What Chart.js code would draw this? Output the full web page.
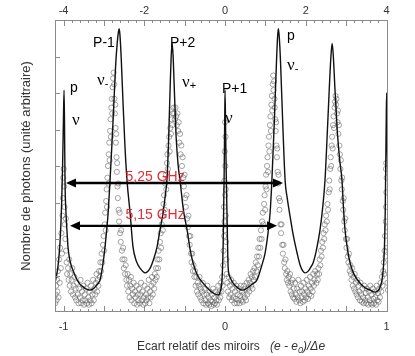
<!DOCTYPE html>
<html>
<head>
<meta charset="utf-8">
<script src="https://cdn.jsdelivr.net/npm/chart.js@4.4.1/dist/chart.umd.min.js"></script>
<style>
  html, body { margin: 0; padding: 0; background: #fff; }
  #c { display: block; }
</style>
</head>
<body>
<canvas id="c" width="415" height="356"></canvas>
<script>
// ---------- axis ticks ----------
const bottomTicks = [-1, 0, 1];
const topTicks = [-4, -2, 0, 2, 4];

// ---------- fitted curve (solid line) ----------
const fitU = [-1.053,-1.045,-1.036,-1.027,-1.019,-1.012,-1.006,-1.001,-0.997,-0.994,-0.991,-0.985,-0.978,-0.972,-0.962,-0.950,-0.941,-0.925,-0.905,-0.879,-0.858,-0.836,-0.815,-0.795,-0.774,-0.760,-0.750,-0.743,-0.734,-0.724,-0.712,-0.700,-0.688,-0.678,-0.668,-0.660,-0.656,-0.651,-0.643,-0.632,-0.620,-0.607,-0.588,-0.570,-0.550,-0.526,-0.495,-0.464,-0.440,-0.421,-0.400,-0.384,-0.370,-0.359,-0.350,-0.341,-0.334,-0.328,-0.322,-0.314,-0.303,-0.290,-0.279,-0.258,-0.235,-0.215,-0.198,-0.170,-0.136,-0.105,-0.074,-0.043,-0.030,-0.019,-0.012,-0.006,-0.002,0.000,0.004,0.008,0.012,0.019,0.030,0.050,0.080,0.111,0.140,0.170,0.198,0.225,0.248,0.266,0.279,0.290,0.305,0.318,0.325,0.330,0.336,0.344,0.357,0.372,0.385,0.402,0.420,0.446,0.465,0.483,0.495,0.515,0.530,0.545,0.565,0.588,0.605,0.619,0.632,0.645,0.655,0.663,0.670,0.680,0.695,0.710,0.724,0.733,0.743,0.758,0.774,0.800,0.836,0.867,0.898,0.929,0.950,0.963,0.972,0.980,0.987,0.992,0.996,0.999,1.001,1.004,1.009];
const fitV = [10,12,15,20,27,37,50,65,76,64,45,34,27,22,18,15.5,14.2,12,10,8.6,7.8,7.5,8,9.2,11,15,19,22.3,27.5,33.9,45.2,58,72,84,92,96,97,95,87,72,57,45,33.9,22.3,17.5,15,13.4,15,18.5,22.3,29,33.9,40,46,58,75,87,92,88,76,60,50,45.2,35,28.1,21,16.8,12.5,9.9,8,6.5,5.8,7,11,22.3,45.2,66,76,60,45,33.9,15.4,12,9.9,8.2,7.5,8.3,9.6,11,15.5,20.2,27,34,45,65,85,94,97,94,85,65,45,39,33,27,20.2,16,13.9,13.4,14,15.3,16.8,21,28.1,36,45.2,60,76,87,92,88,77,62,52,45.2,36,28.1,21.5,16.8,12.8,9.9,8.3,7.5,6.8,7.5,9,11,15,22.3,35,55,70,75,58,40];

// ---------- measured photon counts (open circles), [x, y] ----------
const cloudEdge = [[-1.052,3],[-1.049,6],[-1.046,9],[-1.044,4],[-1.041,11],[-1.038,7],[-1.035,14],[-1.031,5],[-1.028,18],[-1.024,10],[-1.021,22],[-1.017,15],[-1.013,27],[-1.010,20],[-1.007,33],[-1.004,39],[-1.002,46],[-0.999,49],[-0.996,43],[-0.994,36],[-0.992,30],[-0.989,25],[-0.986,32],[-0.984,21],[-0.981,17],[-0.978,13]];
const cloudT1 = [[-0.972,15],[-0.969,11],[-0.965,18],[-0.962,9],[-0.958,13],[-0.954,7],[-0.95,11],[-0.946,15],[-0.942,6],[-0.938,9],[-0.933,12],[-0.929,5],[-0.925,8],[-0.921,4],[-0.917,10],[-0.912,6],[-0.908,3],[-0.904,8],[-0.899,5],[-0.895,11],[-0.891,3],[-0.886,7],[-0.882,4],[-0.878,9],[-0.873,2.5],[-0.869,6],[-0.865,4],[-0.86,8],[-0.856,3],[-0.852,10],[-0.847,5],[-0.843,2.5],[-0.839,7],[-0.834,4],[-0.83,9],[-0.826,3],[-0.821,6],[-0.817,11],[-0.813,4],[-0.809,8],[-0.804,6],[-0.8,10],[-0.796,13],[-0.792,7],[-0.788,11],[-0.784,9],[-0.78,14],[-0.776,12]];
const cloudPm1 = [[-0.772,17],[-0.768,14],[-0.764,20],[-0.76,17],[-0.756,23],[-0.752,26],[-0.749,21],[-0.745,30],[-0.742,34],[-0.739,28],[-0.736,38],[-0.733,42],[-0.731,36],[-0.728,46],[-0.725,50],[-0.722,44],[-0.72,54],[-0.717,58],[-0.715,52],[-0.712,62],[-0.709,66],[-0.707,60],[-0.704,70],[-0.701,73],[-0.699,68],[-0.696,77],[-0.693,80],[-0.69,82],[-0.687,78],[-0.685,73],[-0.682,68],[-0.68,71],[-0.678,63],[-0.676,58],[-0.674,61],[-0.672,53],[-0.67,48],[-0.668,51],[-0.666,43],[-0.664,39],[-0.661,44],[-0.659,35],[-0.656,31],[-0.653,34],[-0.65,27],[-0.646,24],[-0.643,28],[-0.639,21],[-0.635,18],[-0.631,22],[-0.627,15],[-0.623,18],[-0.619,13],[-0.615,16],[-0.611,11]];
const cloudT2 = [[-0.607,9],[-0.603,13],[-0.599,7],[-0.595,11],[-0.591,5],[-0.587,9],[-0.583,12],[-0.579,4],[-0.575,8],[-0.571,6],[-0.566,10],[-0.562,3],[-0.558,7],[-0.554,5],[-0.549,9],[-0.545,2.5],[-0.541,6],[-0.537,4],[-0.532,8],[-0.528,3],[-0.524,6],[-0.52,10],[-0.515,4],[-0.511,7],[-0.507,2.5],[-0.503,5],[-0.498,9],[-0.494,3],[-0.49,6],[-0.486,4],[-0.481,8],[-0.477,5],[-0.473,11],[-0.469,3],[-0.464,7],[-0.46,5],[-0.456,9],[-0.452,12],[-0.447,6],[-0.443,10],[-0.439,8],[-0.435,13]];
const cloudPp2 = [[-0.431,11],[-0.427,15],[-0.423,12],[-0.419,18],[-0.415,15],[-0.411,21],[-0.407,18],[-0.403,24],[-0.399,27],[-0.396,22],[-0.392,30],[-0.388,33],[-0.385,28],[-0.381,37],[-0.378,40],[-0.374,35],[-0.371,44],[-0.367,47],[-0.364,42],[-0.36,51],[-0.357,54],[-0.354,49],[-0.35,57],[-0.346,60],[-0.343,55],[-0.339,63],[-0.335,61],[-0.331,66],[-0.327,64],[-0.323,68],[-0.319,70],[-0.315,68],[-0.311,66],[-0.307,70],[-0.303,67],[-0.299,64],[-0.295,68],[-0.291,62],[-0.287,65],[-0.283,58],[-0.279,61],[-0.275,54],[-0.271,57],[-0.267,50],[-0.263,53],[-0.259,46],[-0.255,43],[-0.251,47],[-0.247,39],[-0.243,36],[-0.239,40],[-0.235,32],[-0.231,29],[-0.227,33],[-0.223,26],[-0.219,23],[-0.215,26],[-0.211,20],[-0.207,17],[-0.203,20],[-0.199,14],[-0.195,16],[-0.19,12],[-0.186,14]];
const cloudT3 = [[-0.182,9],[-0.178,12],[-0.174,7],[-0.17,10],[-0.166,6],[-0.162,9],[-0.158,12],[-0.154,5],[-0.15,8],[-0.146,4],[-0.142,7],[-0.138,10],[-0.134,3],[-0.13,6],[-0.126,8],[-0.122,4],[-0.118,2.5],[-0.114,6],[-0.11,9],[-0.106,3],[-0.102,5],[-0.098,2.5],[-0.094,7],[-0.09,4],[-0.086,2],[-0.082,6],[-0.078,3.5],[-0.074,8],[-0.07,2.5],[-0.066,5],[-0.062,3],[-0.058,7],[-0.054,4],[-0.05,2.5],[-0.046,6],[-0.042,9],[-0.038,4],[-0.034,7],[-0.03,5],[-0.026,10],[-0.022,7],[-0.018,12],[-0.015,9]];
const cloudPp1 = [[-0.012,16],[-0.009,21],[-0.006,26],[-0.003,31],[-0.007,36],[0.001,40],[-0.004,45],[0.002,50],[-0.002,55],[0.003,60],[0.0,65],[0.004,33],[0.006,24],[0.008,18],[0.01,13],[-0.001,28],[0.005,42]];
const cloudT4 = [[0.014,10],[0.018,7],[0.022,12],[0.026,5],[0.03,9],[0.034,6],[0.038,11],[0.042,4],[0.046,8],[0.05,5],[0.054,10],[0.058,3],[0.062,7],[0.066,4.5],[0.07,9],[0.074,3],[0.078,6],[0.082,4],[0.086,8],[0.09,3],[0.094,5.5],[0.098,9],[0.102,4],[0.106,7],[0.11,3.5],[0.114,6],[0.118,9],[0.122,5],[0.126,8],[0.13,4],[0.134,10],[0.138,6],[0.142,8],[0.146,11],[0.15,7],[0.154,10],[0.158,13],[0.162,9],[0.166,12],[0.17,8],[0.174,14]];
const cloudP = [[0.178,11],[0.182,15],[0.186,12],[0.19,17],[0.194,14],[0.198,19],[0.202,16],[0.206,22],[0.21,19],[0.214,25],[0.218,22],[0.222,28],[0.226,25],[0.23,31],[0.234,34],[0.238,30],[0.242,37],[0.245,40],[0.248,35],[0.251,43],[0.254,47],[0.257,42],[0.26,50],[0.263,53],[0.266,48],[0.269,57],[0.272,60],[0.275,55],[0.278,64],[0.281,67],[0.284,62],[0.287,71],[0.29,74],[0.292,69],[0.295,78],[0.298,81],[0.3,76],[0.303,79],[0.306,73],[0.308,70],[0.311,66],[0.313,62],[0.316,65],[0.318,57],[0.321,53],[0.323,56],[0.326,48],[0.329,44],[0.331,47],[0.334,39],[0.337,35],[0.34,38],[0.343,30],[0.347,27],[0.35,30],[0.354,23],[0.358,20],[0.362,23],[0.366,17],[0.37,15],[0.374,18],[0.378,13],[0.382,11],[0.386,14],[0.39,10]];
const cloudT5 = [[0.394,12],[0.398,9],[0.402,13],[0.406,7],[0.41,10],[0.414,6],[0.418,11],[0.422,5],[0.426,8],[0.43,4.5],[0.434,10],[0.438,6],[0.442,3.5],[0.446,8],[0.45,5],[0.454,11],[0.458,4],[0.462,7],[0.466,3],[0.47,9],[0.474,5],[0.478,7],[0.482,3.5],[0.486,10],[0.49,6],[0.494,4],[0.498,8],[0.502,5],[0.506,11],[0.51,7],[0.514,4.5],[0.518,9],[0.522,6],[0.526,12],[0.53,8],[0.534,5.5],[0.538,10],[0.542,7],[0.546,13],[0.55,9],[0.554,11],[0.558,14]];
const cloudNu = [[0.566,10],[0.57,13],[0.574,11],[0.578,15],[0.582,13],[0.586,18],[0.59,16],[0.594,21],[0.598,19],[0.602,24],[0.606,22],[0.61,27],[0.614,25],[0.618,30],[0.622,28],[0.626,33],[0.63,31],[0.634,37],[0.638,35],[0.642,41],[0.645,45],[0.648,42],[0.651,49],[0.654,53],[0.657,50],[0.66,57],[0.663,60],[0.666,56],[0.669,64],[0.672,67],[0.675,63],[0.678,70],[0.681,72],[0.684,74],[0.687,71],[0.69,73],[0.693,68],[0.696,65],[0.699,69],[0.702,61],[0.705,64],[0.708,57],[0.711,54],[0.714,49],[0.717,52],[0.72,45],[0.723,42],[0.726,46],[0.729,38],[0.732,35],[0.735,39],[0.738,31],[0.741,28],[0.744,32],[0.748,25],[0.752,22],[0.756,25],[0.76,19],[0.764,17],[0.768,20],[0.772,14],[0.776,16]];
const cloudT6 = [[0.779,13],[0.783,11],[0.787,15],[0.791,9],[0.795,12],[0.799,8],[0.803,13],[0.807,7],[0.811,10],[0.815,6],[0.819,11],[0.823,5],[0.827,9],[0.831,7],[0.835,4],[0.839,10],[0.843,6],[0.847,3.5],[0.851,8],[0.855,5],[0.859,3],[0.863,9],[0.867,4],[0.871,6.5],[0.875,3],[0.879,8],[0.883,5],[0.887,2.5],[0.891,7],[0.895,4],[0.899,9],[0.903,3],[0.907,6],[0.911,2.5],[0.915,8],[0.919,4.5],[0.923,3],[0.927,7],[0.931,5],[0.935,2.5],[0.939,9],[0.943,4],[0.947,6.5],[0.951,3.5],[0.955,8],[0.959,5],[0.963,10],[0.967,7],[0.971,12],[0.975,9],[0.979,14]];
const cloudEnd = [[0.983,17],[0.986,13],[0.988,21],[0.991,26],[0.993,19],[0.995,31],[0.997,36],[0.999,41],[1.001,46],[0.998,51],[1.003,29],[1.006,10],[1.009,7.5],[1.004,22],[0.996,49]];

// ---------- annotations ----------
const peakText = ['p', 'ν', 'P-1', 'ν', 'P+2', 'ν', 'P+1', 'ν', 'p', 'ν'];
const peakSub  = ['',  '',  '',    '-', '',    '+', '',    '',  '',  '-'];
const peakX    = [-0.960, -0.947, -0.817, -0.793, -0.341, -0.266, -0.019, 0.000, 0.384, 0.384];
const peakY    = [75.3, 64.0, 90.8, 77.7, 90.8, 77.0, 75.0, 64.7, 93.2, 82.9];
const spanLabels = ['5,25 GHz', '5,15 GHz'];
const spanFrom = [-0.985, -0.960];
const spanTo   = [0.359, 0.322];
const spanAt   = [44.2, 29.5];
const spanLabelX = [-0.433, -0.433];
const spanLabelY = [45.0, 32.0];

const X_MIN = -1.053, X_MAX = 1.009;

const fitPts = fitU.map((u, i) => ({x: u, y: fitV[i]}));
const cloudPts = [].concat(cloudEdge, cloudT1, cloudPm1, cloudT2, cloudPp2, cloudT3, cloudPp1,
                           cloudT4, cloudP, cloudT5, cloudNu, cloudT6, cloudEnd)
                   .map(([u, v]) => ({x: u, y: v}));

const SANS = '"Liberation Sans", Arial, sans-serif';
const SERIF = '"Liberation Serif", "Times New Roman", serif';

const decor = {
  id: 'decor',
  afterDatasetsDraw(chart) {
    const {ctx, chartArea: a, scales} = chart;
    const x = scales.x, xt = scales.xTop, y = scales.y;
    ctx.save();
    // frame
    ctx.strokeStyle = '#8a8a8a';
    ctx.lineWidth = 1;
    ctx.strokeRect(Math.round(a.left) + 0.5, Math.round(a.top) + 0.5,
                   Math.round(a.right - a.left) - 1, Math.round(a.bottom - a.top) - 1);
    const seg = (x1, y1, x2, y2) => { ctx.beginPath(); ctx.moveTo(x1, y1); ctx.lineTo(x2, y2); ctx.stroke(); };
    // bottom ticks (inward), every 0.05, long every 0.25
    for (let k = -21; k <= 20; k++) {
      const val = k * 0.05;
      if (val < x.min || val > x.max) continue;
      const px = Math.round(x.getPixelForValue(val)) + 0.5;
      seg(px, a.bottom, px, a.bottom - (k % 5 === 0 ? 6 : 3));
    }
    // top ticks (inward), every 0.2, long every 1
    for (let k = -21; k <= 20; k++) {
      const val = k * 0.2;
      if (val < xt.min || val > xt.max) continue;
      const px = Math.round(xt.getPixelForValue(val)) + 0.5;
      seg(px, a.top, px, a.top + (k % 5 === 0 ? 6 : 3));
    }
    // left ticks
    for (let k = 1; k < 8; k++) {
      const py = Math.round(y.getPixelForValue(k * 12.5)) + 0.5;
      seg(a.left, py, a.left + 5, py);
    }
    // tick labels
    ctx.fillStyle = '#333';
    ctx.font = '11px ' + SANS;
    ctx.textAlign = 'center';
    ctx.textBaseline = 'alphabetic';
    topTicks.forEach(v => ctx.fillText(String(v), xt.getPixelForValue(v), a.top - 6));
    bottomTicks.forEach(v => ctx.fillText(String(v), x.getPixelForValue(v), a.bottom + 18));
    // arrows
    ctx.strokeStyle = '#000';
    ctx.fillStyle = '#000';
    for (let i = 0; i < spanFrom.length; i++) {
      const x1 = x.getPixelForValue(spanFrom[i]);
      const x2 = x.getPixelForValue(spanTo[i]);
      const yy = y.getPixelForValue(spanAt[i]);
      ctx.lineWidth = 2.4;
      seg(x1 + 6, yy, x2 - 6, yy);
      ctx.beginPath(); ctx.moveTo(x1, yy); ctx.lineTo(x1 + 10, yy - 4.5); ctx.lineTo(x1 + 10, yy + 4.5); ctx.closePath(); ctx.fill();
      ctx.beginPath(); ctx.moveTo(x2, yy); ctx.lineTo(x2 - 10, yy - 4.5); ctx.lineTo(x2 - 10, yy + 4.5); ctx.closePath(); ctx.fill();
    }
    // span labels
    ctx.fillStyle = 'rgb(226,45,55)';
    ctx.font = '14px ' + SANS;
    ctx.textAlign = 'center';
    ctx.textBaseline = 'alphabetic';
    spanLabels.forEach((t, i) => {
      ctx.fillText(t, x.getPixelForValue(spanLabelX[i]), y.getPixelForValue(spanLabelY[i]));
    });
    // peak labels
    ctx.fillStyle = '#000';
    ctx.textAlign = 'left';
    peakText.forEach((t, i) => {
      const px = x.getPixelForValue(peakX[i]);
      const py = y.getPixelForValue(peakY[i]);
      if (t === 'ν') {
        ctx.font = '17px ' + SERIF;
        ctx.fillText(t, px, py);
        if (peakSub[i]) {
          const w = ctx.measureText(t).width;
          ctx.font = '11px ' + SANS;
          ctx.fillText(peakSub[i], px + w, py + 2);
        }
      } else {
        ctx.font = '14px ' + SANS;
        ctx.fillText(t, px, py);
      }
    });
    ctx.restore();
  },
  afterDraw(chart) {
    const {ctx} = chart;
    ctx.save();
    ctx.fillStyle = '#333';
    ctx.textBaseline = 'alphabetic';
    ctx.textAlign = 'left';
    ctx.font = '12px ' + SANS;
    ctx.fillText('Ecart relatif des miroirs', 137, 350);
    let cx = 270;
    ctx.font = 'italic 12px ' + SANS;
    ctx.fillText('(e - e', cx, 350);
    cx += ctx.measureText('(e - e').width;
    ctx.font = 'italic 9px ' + SANS;
    ctx.fillText('0', cx, 353);
    cx += ctx.measureText('0').width;
    ctx.font = 'italic 12px ' + SANS;
    ctx.fillText(')/Δe', cx, 350);
    ctx.restore();
  }
};

new Chart(document.getElementById('c'), {
  type: 'scatter',
  data: {
    datasets: [
      {
        type: 'line',
        data: fitPts,
        borderColor: '#111',
        borderWidth: 1.4,
        pointRadius: 0,
        fill: false,
        cubicInterpolationMode: 'monotone',
        order: 0
      },
      {
        type: 'scatter',
        data: cloudPts,
        pointStyle: 'circle',
        pointRadius: 2.6,
        borderWidth: 0.8,
        borderColor: 'rgba(95,95,95,0.7)',
        backgroundColor: 'rgba(0,0,0,0)',
        order: 1
      }
    ]
  },
  options: {
    responsive: false,
    animation: false,
    devicePixelRatio: 1,
    layout: { padding: { left: 0, right: 27, top: 0, bottom: 0 } },
    plugins: { legend: { display: false }, tooltip: { enabled: false } },
    scales: {
      x: {
        type: 'linear', position: 'bottom', min: X_MIN, max: X_MAX,
        grid: { display: false }, border: { display: false },
        afterBuildTicks: s => { s.ticks = bottomTicks.map(v => ({value: v})); },
        afterFit: s => { s.height = 44; },
        ticks: { display: false }
      },
      xTop: {
        type: 'linear', position: 'top', min: X_MIN * 4, max: X_MAX * 4,
        grid: { display: false }, border: { display: false },
        afterBuildTicks: s => { s.ticks = topTicks.map(v => ({value: v})); },
        afterFit: s => { s.height = 20; },
        ticks: { display: false }
      },
      y: {
        type: 'linear', position: 'left', min: 0, max: 100,
        grid: { display: false }, border: { display: false },
        ticks: { display: false },
        afterFit: s => { s.width = 55; },
        title: {
          display: true, text: 'Nombre de photons (unité arbitraire)',
          color: '#333', font: { family: SANS, size: 13 }, padding: { top: 19, bottom: 0 }
        }
      }
    }
  },
  plugins: [decor]
});
</script>
</body>
</html>
